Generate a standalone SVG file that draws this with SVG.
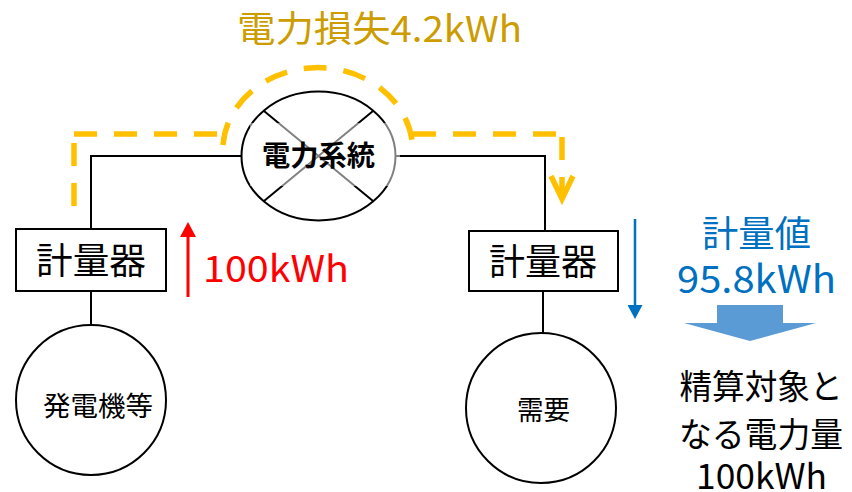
<svg xmlns="http://www.w3.org/2000/svg" width="852" height="492" viewBox="0 0 852 492">
<style>
text{font-family:"Noto Sans CJK JP","Noto Sans",sans-serif}
.ln{fill:none;stroke:#000;stroke-width:2}
.nd{fill:#fff;stroke:#000;stroke-width:2}
.gd{fill:none;stroke:#FFC000;stroke-width:5.5;stroke-dasharray:23 17}
.mk{fill:none;stroke:#FFC000;stroke-width:5.5;stroke-dasharray:none;stroke-linejoin:miter}
</style>
<defs>
<marker id="redHead" viewBox="0 0 15 16" refX="0" refY="8" markerWidth="15" markerHeight="16" markerUnits="userSpaceOnUse" orient="auto"><path d="M0,0 L15,8 L0,16 z" fill="#FF0000"/></marker>
<marker id="blueHead" viewBox="0 0 14 15" refX="0" refY="7.5" markerWidth="14" markerHeight="15" markerUnits="userSpaceOnUse" orient="auto"><path d="M0,0 L14,7.5 L0,15 z" fill="#0070C0"/></marker>
<marker id="goldHead" viewBox="-30 -16 40 32" refX="0" refY="0" markerWidth="40" markerHeight="32" markerUnits="userSpaceOnUse" orient="auto"><path class="mk" d="M-23,-11 L0,0 L-23,11"/></marker>
</defs>
<g id="connectors">
<path class="ln" d="M91,231 V156 H242"/>
<path class="ln" d="M395,156 H545 V231"/>
<path class="ln" d="M91,291 V325"/>
<path class="ln" d="M543,291 V333"/>
<path class="gd" d="M74,206 V134"/>
<path class="gd" d="M74,134 H222"/>
<path class="gd" d="M223,145 A95,83 0 0 1 412,140"/>
<path class="gd" d="M413,134 H557"/>
<path class="gd" d="M562,137 V199" marker-end="url(#goldHead)"/>
<path d="M188,297 V237" stroke="#FF0000" stroke-width="3" fill="none" marker-end="url(#redHead)"/>
<path d="M635,219 V305" stroke="#0070C0" stroke-width="2.5" fill="none" marker-end="url(#blueHead)"/>
<polygon points="717,305 783,305 783,323 816,323 750,341 684,323 717,323" fill="#5B9BD5"/>
</g>
<g id="grid-node">
<ellipse class="nd" cx="318.5" cy="156" rx="77" ry="64.5"/>
<path class="ln" d="M264,111 L373,201 M373,111 L264,201"/>
<rect x="250" y="123" width="150" height="63" fill="#fff" fill-opacity="0.5"/>
<text x="318.5" y="166" font-size="28" font-weight="bold" text-anchor="middle" textLength="113" lengthAdjust="spacingAndGlyphs">電力系統</text>
</g>
<g id="meter-left">
<rect class="nd" x="16" y="229" width="150" height="62"/>
<text x="91" y="274" font-size="36" text-anchor="middle" textLength="110" lengthAdjust="spacingAndGlyphs">計量器</text>
</g>
<g id="meter-right">
<rect class="nd" x="469" y="231" width="149" height="60"/>
<text x="543" y="275" font-size="36" text-anchor="middle" textLength="108" lengthAdjust="spacingAndGlyphs">計量器</text>
</g>
<g id="generator">
<circle class="nd" cx="91" cy="400" r="75"/>
<text x="98" y="416" font-size="27" text-anchor="middle" textLength="110" lengthAdjust="spacingAndGlyphs">発電機等</text>
</g>
<g id="demand">
<circle class="nd" cx="541" cy="408" r="75"/>
<text x="543.5" y="419.5" font-size="27" text-anchor="middle" textLength="53" lengthAdjust="spacingAndGlyphs">需要</text>
</g>
<g id="labels">
<text x="379.5" y="42" font-size="36" fill="#CC9C00" text-anchor="middle" textLength="285" lengthAdjust="spacingAndGlyphs">電力損失4.2kWh</text>
<text x="203" y="282" font-size="37" fill="#FF0000" textLength="146" lengthAdjust="spacingAndGlyphs">100kWh</text>
<text x="756.5" y="247" font-size="36" fill="#0070C0" text-anchor="middle" textLength="109" lengthAdjust="spacingAndGlyphs">計量値</text>
<text x="756.5" y="293" font-size="38" fill="#0070C0" text-anchor="middle" textLength="159" lengthAdjust="spacingAndGlyphs">95.8kWh</text>
<text x="761" y="399" font-size="34" text-anchor="middle" textLength="163" lengthAdjust="spacingAndGlyphs">精算対象と</text>
<text x="761" y="447" font-size="34" text-anchor="middle" textLength="164" lengthAdjust="spacingAndGlyphs">なる電力量</text>
<text x="761.5" y="489" font-size="35" text-anchor="middle" textLength="131" lengthAdjust="spacingAndGlyphs">100kWh</text>
</g>
</svg>
